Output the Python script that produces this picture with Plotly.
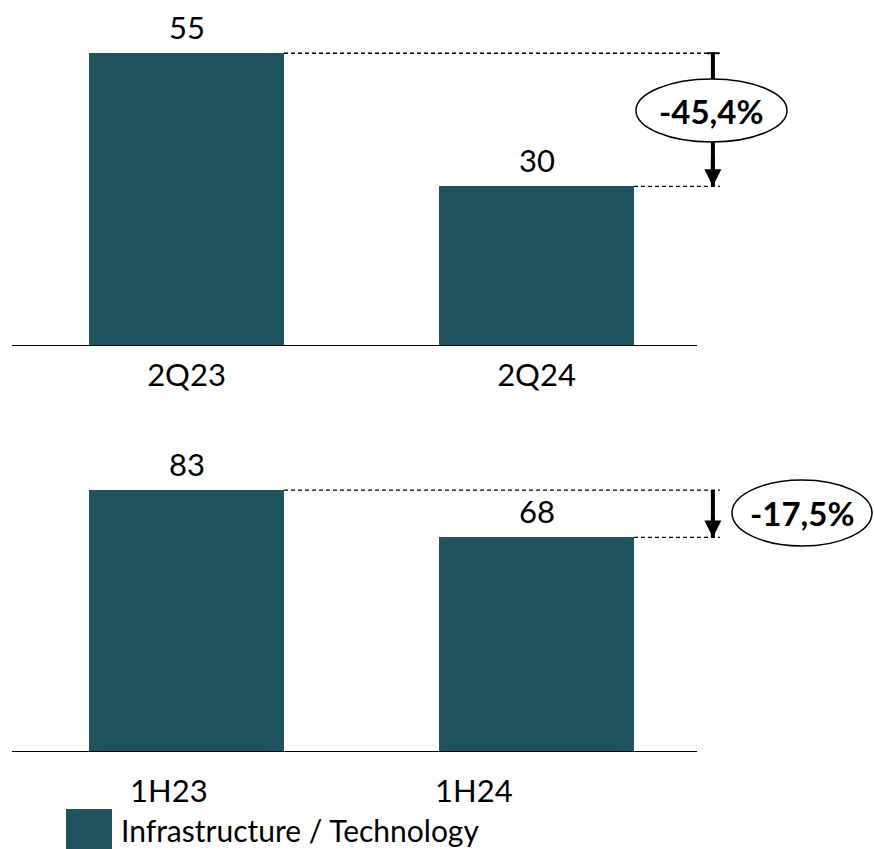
import plotly.graph_objects as go

W, H = 874, 849

# data
quarters = ["2Q23", "2Q24"]
quarter_vals = [55, 30]
quarter_change = "-45,4%"
halves = ["1H23", "1H24"]
half_vals = [83, 68]
half_change = "-17,5%"
series_name = "Infrastructure / Technology"

BAR = "#1E525C"
FONT = "Lato"
LABEL_SIZE = 31
CHANGE_SIZE = 33
LEGEND_SIZE = 30


def px_x(p):
    return p / W


def px_y(p):
    return 1 - p / H


# category spacing 350 px, first category centred at 186.5 px
x_range = [-186.5 / 350, (W - 186.5) / 350]
bar_w = 0.557
base_x = [-0.4986, 1.4586]
dash_end = 1.524
arrow_x = 1.504

fig = go.Figure()
fig.add_trace(go.Bar(x=quarters, y=quarter_vals, width=bar_w, marker_color=BAR,
                     marker_line_width=0, name=series_name, showlegend=False,
                     xaxis="x", yaxis="y"))
fig.add_trace(go.Bar(x=halves, y=half_vals, width=bar_w, marker_color=BAR,
                     marker_line_width=0, name=series_name, showlegend=False,
                     xaxis="x2", yaxis="y2"))

shapes = []
annotations = []


def panel(xa, ya, cats, vals, change, ell_box, head_len, cap):
    # baseline
    shapes.append(dict(type="line", xref=xa, yref=ya, x0=base_x[0], x1=base_x[1],
                       y0=0, y1=0, line=dict(color="black", width=2)))
    # guide lines from bar tops
    for i, v in enumerate(vals):
        shapes.append(dict(type="line", xref=xa, yref=ya, x0=i + bar_w / 2, x1=dash_end,
                           y0=v, y1=v, line=dict(color="black", width=1.3, dash="4px,3px")))
    # arrow shaft
    shapes.append(dict(type="line", xref=xa, yref=ya, x0=arrow_x, x1=arrow_x,
                       y0=vals[0], y1=vals[1], line=dict(color="black", width=4)))
    if cap:
        shapes.append(dict(type="line", xref=xa, yref=ya, x0=arrow_x - 0.017, x1=arrow_x + 0.017,
                           y0=vals[0], y1=vals[0], line=dict(color="black", width=2)))
    # arrow head
    annotations.append(dict(xref=xa, yref=ya, x=arrow_x, y=vals[1], ax=0, ay=-head_len,
                            text="", showarrow=True, arrowhead=2, arrowwidth=4,
                            arrowsize=0.85, arrowcolor="black", standoff=0))
    # ellipse with change label
    x0, y0, x1, y1 = ell_box
    shapes.append(dict(type="circle", xref="paper", yref="paper",
                       x0=px_x(x0), x1=px_x(x1), y0=px_y(y1), y1=px_y(y0),
                       fillcolor="white", line=dict(color="black", width=1.5)))
    annotations.append(dict(xref="paper", yref="paper", x=px_x((x0 + x1) / 2),
                            y=px_y((y0 + y1) / 2), text="<b>%s</b>" % change,
                            showarrow=False, font=dict(size=CHANGE_SIZE, family=FONT, color="black"),
                            xanchor="center", yanchor="middle"))
    # value labels
    for c, v in zip(cats, vals):
        annotations.append(dict(xref=xa, yref=ya, x=c, y=v, text=str(v), showarrow=False,
                                yanchor="bottom", yshift=5,
                                font=dict(size=LABEL_SIZE, family=FONT, color="black")))


panel("x", "y", quarters, quarter_vals, quarter_change, (636, 79, 787, 142), 30, True)
panel("x2", "y2", halves, half_vals, half_change, (732, 480, 872, 546), 22, False)

# category labels of the lower panel
for c, shift in zip(halves, [-18, -63]):
    annotations.append(dict(xref="x2", yref="paper", x=c, y=px_y(790), xshift=shift,
                            text=c, showarrow=False, yanchor="middle",
                            font=dict(size=LABEL_SIZE, family=FONT, color="black")))

# legend swatch and label
shapes.append(dict(type="rect", xref="paper", yref="paper", x0=px_x(66), x1=px_x(112),
                   y0=0, y1=px_y(809), fillcolor=BAR, line_width=0))
annotations.append(dict(xref="paper", yref="paper", x=px_x(120), y=0, text=series_name,
                        showarrow=False, xanchor="left", yanchor="bottom", borderpad=0,
                        font=dict(size=LEGEND_SIZE, family=FONT, color="black")))

fig.update_layout(
    width=W, height=H, margin=dict(l=0, r=0, t=0, b=0),
    paper_bgcolor="white", plot_bgcolor="white",
    font=dict(family=FONT, size=LABEL_SIZE, color="black"),
    bargap=0, shapes=shapes, annotations=annotations, showlegend=False,
    xaxis=dict(domain=[0, 1], range=x_range, anchor="y", showgrid=False, zeroline=False,
               showline=False, ticks="", tickfont=dict(size=LABEL_SIZE, family=FONT),
               ticklabelstandoff=8),
    yaxis=dict(domain=[px_y(346), 1], range=[0, 65.0], visible=False),
    xaxis2=dict(domain=[0, 1], range=x_range, anchor="y2", showgrid=False, zeroline=False,
                showline=False, ticks="", showticklabels=False),
    yaxis2=dict(domain=[px_y(752), px_y(420)], range=[0, 105.2], visible=False),
)

fig.write_html("out.html")
